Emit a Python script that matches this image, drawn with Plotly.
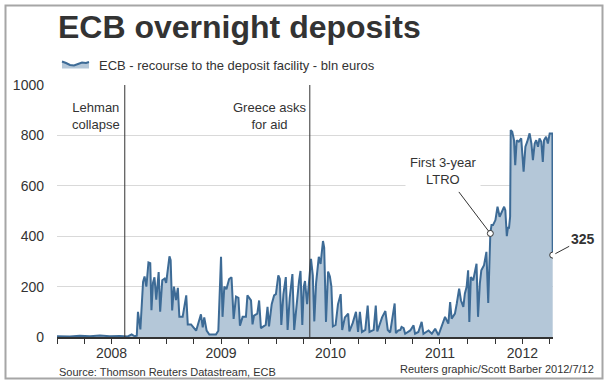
import plotly.graph_objects as go
import pandas as pd

# ---------------- data ----------------
dates_2008 = ["2008-01-01", "2008-02-13", "2008-03-17", "2008-04-20", "2008-05-23", "2008-06-25",
              "2008-07-28", "2008-08-24", "2008-09-06", "2008-09-16", "2008-09-23", "2008-09-27",
              "2008-10-05", "2008-10-14", "2008-10-19", "2008-10-25", "2008-11-01", "2008-11-07",
              "2008-11-11", "2008-11-16", "2008-11-21", "2008-11-27", "2008-12-05", "2008-12-10",
              "2008-12-17", "2008-12-25", "2008-12-30"]
values_2008 = [3, 2, 5, 3, 6, 3, 4, 2, 10, 3, 5, 100,
               30, 219, 240, 200, 296, 293,
               106, 215, 237, 148, 258, 100,
               225, 232, 215]

dates_2009 = ["2009-01-05", "2009-01-10", "2009-01-14", "2009-01-19", "2009-01-25",
              "2009-02-01", "2009-02-07", "2009-02-12", "2009-02-23", "2009-03-07",
              "2009-03-12", "2009-03-23", "2009-03-31", "2009-04-09", "2009-04-25",
              "2009-05-01", "2009-05-06", "2009-05-14", "2009-05-23", "2009-06-14",
              "2009-06-22", "2009-07-01", "2009-07-06", "2009-07-12", "2009-07-19",
              "2009-07-28", "2009-08-05", "2009-08-12", "2009-08-20", "2009-08-28",
              "2009-09-02", "2009-09-11", "2009-09-22", "2009-09-27", "2009-10-09",
              "2009-10-14", "2009-10-19", "2009-10-30", "2009-11-05", "2009-11-11",
              "2009-11-27", "2009-12-03", "2009-12-08", "2009-12-17", "2009-12-25",
              "2009-12-31"]
values_2009 = [286, 320, 305, 105, 200,
               146, 195, 80, 80, 165,
               50, 50, 38, 25, 90,
               38, 78, 25, 10, 10,
               25, 318, 80, 200, 190,
               230, 237, 72, 160, 155,
               45, 80, 80, 165, 145,
               50, 85, 93, 145, 35,
               48, 120, 42, 130, 165,
               170]

dates_2010 = ["2010-01-08", "2010-01-13", "2010-01-18", "2010-01-25", "2010-02-02",
              "2010-02-08", "2010-02-15", "2010-02-24", "2010-03-02", "2010-03-12",
              "2010-03-18", "2010-03-23", "2010-03-29", "2010-04-03", "2010-04-07",
              "2010-04-14", "2010-04-20", "2010-04-27", "2010-05-03", "2010-05-08",
              "2010-05-14", "2010-05-23", "2010-05-29", "2010-06-06", "2010-06-10",
              "2010-06-13", "2010-06-16", "2010-06-23", "2010-06-29", "2010-07-04",
              "2010-07-09", "2010-07-18", "2010-07-26", "2010-08-04", "2010-08-09",
              "2010-08-18", "2010-08-29", "2010-09-02", "2010-09-13", "2010-09-24",
              "2010-10-01", "2010-10-07", "2010-10-14", "2010-10-25", "2010-11-02",
              "2010-11-08", "2010-11-22", "2010-11-29", "2010-12-04", "2010-12-20",
              "2010-12-31"]
values_2010 = [245, 230, 48, 170, 238,
               28, 155, 250, 28, 155,
               222, 262, 48, 200, 222,
               130, 232, 310, 245, 62,
               215, 318, 290, 381, 355,
               232, 60, 260, 240, 200,
               42, 48, 130, 170, 28,
               78, 93, 22, 55, 100,
               20, 100, 20, 28, 125,
               20, 28, 125, 22, 78,
               103]

dates_2011 = ["2011-01-08", "2011-01-16", "2011-01-31", "2011-02-04", "2011-02-12",
              "2011-02-19", "2011-02-23", "2011-03-02", "2011-03-07", "2011-03-15",
              "2011-03-24", "2011-04-04", "2011-04-09", "2011-04-20", "2011-05-01",
              "2011-05-07", "2011-05-24", "2011-06-04", "2011-06-15", "2011-06-26",
              "2011-07-07", "2011-07-18", "2011-07-29", "2011-08-04", "2011-08-09",
              "2011-08-20", "2011-08-26", "2011-09-03", "2011-09-09", "2011-09-17",
              "2011-09-22", "2011-09-28", "2011-10-03", "2011-10-07", "2011-10-12",
              "2011-10-20", "2011-10-31", "2011-11-05", "2011-11-11", "2011-11-16",
              "2011-11-25", "2011-12-03", "2011-12-09", "2011-12-13", "2011-12-16",
              "2011-12-20", "2011-12-25"]
values_2011 = [28, 18, 133, 15, 26,
               28, 40, 35, 13, 20,
               26, 46, 13, 20, 60,
               13, 26, 13, 33, 7,
               40, 80, 53, 139, 73,
               93, 132, 192, 146, 119,
               172, 199, 265, 60, 238,
               225, 291, 80, 212, 265,
               285, 338, 135, 265, 411,
               444, 444]

dates_2012 = ["2012-01-02", "2012-01-09", "2012-01-16", "2012-01-24", "2012-01-31",
              "2012-02-04", "2012-02-09", "2012-02-13", "2012-02-16", "2012-02-20",
              "2012-02-22", "2012-02-27", "2012-03-04", "2012-03-08", "2012-03-13",
              "2012-03-20", "2012-03-28", "2012-04-05", "2012-04-11", "2012-04-17",
              "2012-04-25", "2012-05-01", "2012-05-06", "2012-05-12", "2012-05-17",
              "2012-05-23", "2012-05-28", "2012-06-03", "2012-06-08", "2012-06-12",
              "2012-06-19", "2012-06-25", "2012-07-01", "2012-07-10", "2012-07-11"]
values_2012 = [464, 517, 477, 497, 517,
               503, 400, 437, 430, 477,
               821, 815, 781, 682, 781,
               775, 788, 656, 755, 775,
               808, 768, 702, 768, 781,
               755, 788, 775, 695, 781,
               795, 768, 808, 808, 325]

event_dates = ["2008-08-14", "2010-04-23"]
event_labels = ["Lehman<br>collapse", "Greece asks<br>for aid"]
ltro_date = "2011-12-16"
ltro_label = "First 3-year<br>LTRO"

year_labels = ["2008", "2009", "2010", "2011", "2012"]
year_label_dates = ["2008-07-01", "2009-07-01", "2010-07-01", "2011-07-01", "2012-04-01"]
y_ticks = [0, 200, 400, 600, 800, 1000]

dates = dates_2008 + dates_2009 + dates_2010 + dates_2011 + dates_2012
values = values_2008 + values_2009 + values_2010 + values_2011 + values_2012
ltro_value = values[dates.index(ltro_date)]

# ---------------- layout helpers ----------------
W, H = 607, 383
L, R, T, B = 57, 54, 85, 46
PW, PH = W - L - R, H - T - B


def px(x):
    return (x - L) / PW


def py(y):
    return (H - B - y) / PH


FONT = "Liberation Sans, Arial, sans-serif"
TXT = "#333333"
LINE = "#3d6b96"
FILL = "#b4c7d8"

fig = go.Figure()
fig.add_trace(go.Scatter(
    x=dates, y=values, mode="lines",
    line=dict(color=LINE, width=2),
    fill="tozeroy", fillcolor=FILL,
    hoverinfo="skip", showlegend=False,
))
fig.add_trace(go.Scatter(
    x=[ltro_date, dates[-1]], y=[ltro_value, values[-1]], mode="markers",
    marker=dict(symbol="circle", size=6, color="white", line=dict(color=TXT, width=1)),
    hoverinfo="skip", showlegend=False,
))

tick_dates = pd.date_range("2008-01-01", "2012-07-01", freq="QS")
tick_vals = [d.strftime("%Y-%m-%d") for d in tick_dates]
lab = dict(zip(year_label_dates, year_labels))
tick_text = [lab.get(v, "") for v in tick_vals]

shapes = []
for d in event_dates:
    shapes.append(dict(type="line", xref="x", yref="paper", x0=d, x1=d, y0=0, y1=1,
                       line=dict(color=TXT, width=1)))
# outer frame
shapes.append(dict(type="rect", xref="paper", yref="paper",
                   x0=px(5.5), x1=px(602.5), y0=py(378.5), y1=py(5.5),
                   line=dict(color="#a6a6a6", width=2)))
# legend icon (small area sample)
wave = [(62, 61.5), (66, 63), (70, 65), (74, 65.5), (78, 64), (82, 62.5), (86, 63), (89, 62)]
area_path = "M {} {} ".format(px(62), py(68.5)) + " ".join(
    "L {} {}".format(px(a), py(b)) for a, b in wave) + " L {} {} Z".format(px(89), py(68.5))
line_path = "M " + " L ".join("{} {}".format(px(a), py(b)) for a, b in wave)
shapes.append(dict(type="path", xref="paper", yref="paper", path=area_path,
                   fillcolor=FILL, line=dict(width=0)))
shapes.append(dict(type="path", xref="paper", yref="paper", path=line_path,
                   line=dict(color=LINE, width=2)))

annotations = [
    dict(text="<b>ECB overnight deposits</b>", xref="paper", yref="paper",
         x=px(56), y=py(27), xanchor="left", yanchor="middle", showarrow=False,
         font=dict(family=FONT, size=32, color=TXT)),
    dict(text="ECB - recourse to the deposit facility - bln euros", xref="paper", yref="paper",
         x=px(97), y=py(65), xanchor="left", yanchor="middle", showarrow=False,
         font=dict(family=FONT, size=13, color=TXT)),
    dict(text=event_labels[0], xref="paper", yref="paper", x=px(96), y=py(116),
         xanchor="center", yanchor="middle", showarrow=False,
         font=dict(family=FONT, size=13, color=TXT)),
    dict(text=event_labels[1], xref="paper", yref="paper", x=px(269), y=py(116),
         xanchor="center", yanchor="middle", showarrow=False,
         font=dict(family=FONT, size=13, color=TXT)),
    dict(text=ltro_label, x=ltro_date, y=ltro_value, xref="x", yref="y",
         ax=-47, ay=-62, showarrow=True, arrowhead=0, arrowwidth=1, arrowcolor=TXT,
         standoff=3, bgcolor="white", borderpad=4,
         font=dict(family=FONT, size=13, color=TXT)),
    dict(text="<b>{}</b>".format(values[-1]), x=dates[-1], y=values[-1], xref="x", yref="y",
         ax=30, ay=-16, showarrow=True, arrowhead=0, arrowwidth=1, arrowcolor=TXT,
         standoff=3, font=dict(family=FONT, size=14, color=TXT)),
    dict(text="Source: Thomson Reuters Datastream, ECB", xref="paper", yref="paper",
         x=px(57), y=py(372), xanchor="left", yanchor="middle", showarrow=False,
         font=dict(family=FONT, size=11, color=TXT)),
    dict(text="Reuters graphic/Scott Barber 2012/7/12", xref="paper", yref="paper",
         x=px(596), y=py(369), xanchor="right", yanchor="middle", showarrow=False,
         font=dict(family=FONT, size=11, color=TXT)),
]

fig.update_layout(
    width=W, height=H,
    margin=dict(l=L, r=R, t=T, b=B, pad=0),
    paper_bgcolor="white", plot_bgcolor="white",
    showlegend=False,
    shapes=shapes, annotations=annotations,
    xaxis=dict(type="date", range=["2008-01-01", "2012-07-12"],
               tickmode="array", tickvals=tick_vals, ticktext=tick_text,
               ticks="outside", ticklen=5, tickwidth=1, tickcolor=TXT,
               showline=True, linecolor=TXT, linewidth=1.5,
               showgrid=False, zeroline=False, tickangle=0,
               ticklabelstandoff=-2,
               tickfont=dict(family=FONT, size=14, color=TXT)),
    yaxis=dict(range=[0, 1000], tickmode="array", tickvals=y_ticks,
               showgrid=True, gridcolor="#d9d9d9", gridwidth=1,
               zeroline=False, showline=False, ticks="",
               ticklabelstandoff=12,
               tickfont=dict(family=FONT, size=14, color=TXT)),
)

fig.write_html("out.html",
               config={"displayModeBar": False, "staticPlot": True},
               post_script="document.body.style.margin='0';document.body.style.overflow='hidden';")
